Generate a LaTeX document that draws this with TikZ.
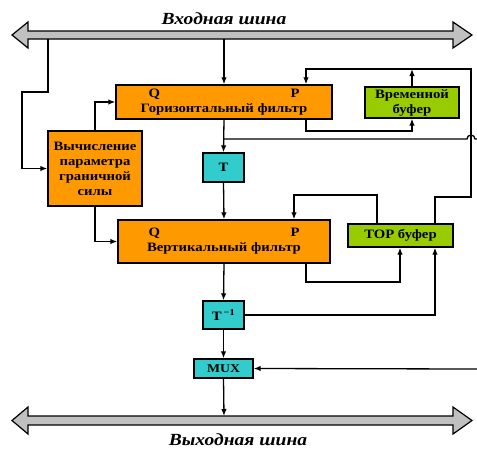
\documentclass[tikz,border=0pt]{standalone}
\usepackage{fontspec}
\setmainfont{Liberation Serif}[FakeStretch=1.15]
\usepackage{xcolor}
\usetikzlibrary{arrows.meta}
\definecolor{forange}{HTML}{FF9900}
\definecolor{fgreen}{HTML}{99CC00}
\definecolor{fcyan}{HTML}{33CCCC}
\definecolor{fgray}{HTML}{C0C0C0}

\begin{document}
\begin{tikzpicture}[x=1pt, y=-1pt, line width=1.3pt,
    >={Latex[length=7pt,width=5.5pt]},
    blk/.style={draw, line width=1.4pt, inner sep=0pt, align=center,
                font=\bfseries\fontsize{12.8}{15}\selectfont},
    filt/.style={blk, fill=forange},
    buf/.style={blk, fill=fgreen},
    op/.style={blk, fill=fcyan},
    bus/.style={draw, fill=fgray, line width=1.2pt, line join=miter},
    buslbl/.style={font=\bfseries\itshape\fontsize{17}{20}\selectfont}]

    \useasboundingbox (0,0) rectangle (477,448);

    % buses
    \draw[bus] (12,35) -- (28,22) -- (28,31) -- (453,31) -- (453,22) -- (472,35)
       -- (453,48) -- (453,39) -- (28,39) -- (28,48) -- cycle;
    \draw[bus] (12,420.5) -- (28,407) -- (28,416) -- (453,416) -- (453,407) -- (472,420.5)
       -- (453,434) -- (453,425) -- (28,425) -- (28,434) -- cycle;
    \node[buslbl] (inlbl)  at (224,19)  {Входная шина};
    \node[buslbl] (outlbl) at (238,440) {Выходная шина};
    \coordinate (inA) at (48,39);
    \coordinate (inB) at (224,39);
    \coordinate (outA) at (224,416);

    % --- blocks ----------------------------------------------------------
    \node[filt, minimum width=216pt, minimum height=34pt] (hf) at (224,102)
      {\makebox[151pt]{Q\hfill P}\\Горизонтальный фильтр};
    \node[filt, minimum width=94pt, minimum height=75pt] (calc) at (95,168.5)
      {Вычисление\\параметра\\граничной\\силы};
    \node[buf, minimum width=94pt, minimum height=31pt] (tmp) at (412,102.5)
      {Временной\\буфер};
    \node[op, minimum width=41pt, minimum height=29pt] (t) at (223.5,167.5) {T};
    \node[filt, minimum width=212pt, minimum height=43pt] (vf) at (224,241.5)
      {\makebox[151pt]{Q\hfill P}\\Вертикальный фильтр};
    \node[buf, minimum width=105pt, minimum height=23pt] (top) at (400.5,235.5)
      {TOP буфер};
    \node[op, minimum width=41pt, minimum height=28pt] (tinv) at (223.5,315)
      {T\,\textsuperscript{−1}};
    \node[op, minimum width=59pt, minimum height=19pt,
          font=\bfseries\fontsize{12}{14}\selectfont] (mux) at (223.5,368.5) {MUX};

    % --- connectors ------------------------------------------------------
    \draw[->] (inA) |- (22,92) |- (calc.west);
    \draw[->] (inB) -- (hf.north);
    \draw[->] (calc.north) |- (hf.west);
    \draw[->] (hf.south) -- (t.north);
    \draw (224,139) -- (467,139) arc[start angle=180, end angle=0, radius=4pt] -- (477,139);
    \draw[->] (hf.south -| 306,0) |- (412,131) -- (tmp.south);
    \draw[->] (tmp.north) -- (412,69);
    \draw[->] (471,69) -- (306,69) -- (hf.north -| 306,0);
    \draw (412,69) -- (471,69) |- (435,197) -- (top.north -| 435,0);
    \draw[->] (t.south) -- (vf.north);
    \draw[->] (calc.south) |- (vf.west);
    \draw[->] (top.north -| 377,0) |- (294,195) -- (vf.north -| 294,0);
    \draw[->] (vf.south -| 306,0) |- (400,282) -- (top.south -| 400,0);
    \draw[->] (vf.south) -- (tinv.north);
    \draw[->] (tinv.east) -| (top.south -| 435,0);
    \draw[->] (tinv.south) -- (mux.north);
    \draw[->] (477,369) -- (mux.east);
    \draw[->] (mux.south) -- (outA);
\end{tikzpicture}
\end{document}
